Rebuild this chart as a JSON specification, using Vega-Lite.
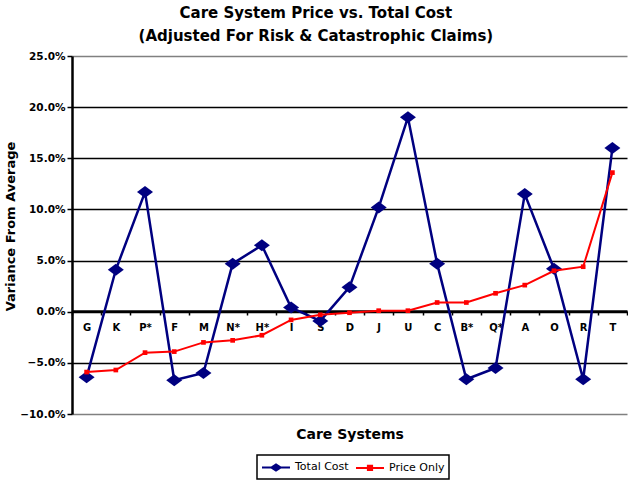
{
  "$schema": "https://vega.github.io/schema/vega-lite/v6.json",
  "width": 555,
  "height": 358,
  "autosize": {"type": "none"},
  "padding": {"left": 72, "top": 56, "right": 1, "bottom": 66},
  "background": "white",
  "title": {
    "text": ["Care System Price vs. Total Cost", "(Adjusted For Risk & Catastrophic Claims)"],
    "anchor": "middle",
    "frame": "bounds",
    "font": "DejaVu Sans",
    "fontSize": 15,
    "fontWeight": "bold",
    "lineHeight": 23,
    "color": "black",
    "offset": 7
  },
  "data": {
    "values": [
      {"system": "G", "series": "Total Cost", "value": -0.064},
      {"system": "K", "series": "Total Cost", "value": 0.041},
      {"system": "P*", "series": "Total Cost", "value": 0.117},
      {"system": "F", "series": "Total Cost", "value": -0.067},
      {"system": "M", "series": "Total Cost", "value": -0.060},
      {"system": "N*", "series": "Total Cost", "value": 0.047},
      {"system": "H*", "series": "Total Cost", "value": 0.065},
      {"system": "I", "series": "Total Cost", "value": 0.004},
      {"system": "S", "series": "Total Cost", "value": -0.009},
      {"system": "D", "series": "Total Cost", "value": 0.024},
      {"system": "J", "series": "Total Cost", "value": 0.102},
      {"system": "U", "series": "Total Cost", "value": 0.190},
      {"system": "C", "series": "Total Cost", "value": 0.047},
      {"system": "B*", "series": "Total Cost", "value": -0.066},
      {"system": "Q*", "series": "Total Cost", "value": -0.055},
      {"system": "A", "series": "Total Cost", "value": 0.115},
      {"system": "O", "series": "Total Cost", "value": 0.042},
      {"system": "R", "series": "Total Cost", "value": -0.066},
      {"system": "T", "series": "Total Cost", "value": 0.160},
      {"system": "G", "series": "Price Only", "value": -0.059},
      {"system": "K", "series": "Price Only", "value": -0.057},
      {"system": "P*", "series": "Price Only", "value": -0.040},
      {"system": "F", "series": "Price Only", "value": -0.039},
      {"system": "M", "series": "Price Only", "value": -0.030},
      {"system": "N*", "series": "Price Only", "value": -0.028},
      {"system": "H*", "series": "Price Only", "value": -0.023},
      {"system": "I", "series": "Price Only", "value": -0.008},
      {"system": "S", "series": "Price Only", "value": -0.003},
      {"system": "D", "series": "Price Only", "value": -0.001},
      {"system": "J", "series": "Price Only", "value": 0.001},
      {"system": "U", "series": "Price Only", "value": 0.001},
      {"system": "C", "series": "Price Only", "value": 0.009},
      {"system": "B*", "series": "Price Only", "value": 0.009},
      {"system": "Q*", "series": "Price Only", "value": 0.018},
      {"system": "A", "series": "Price Only", "value": 0.026},
      {"system": "O", "series": "Price Only", "value": 0.040},
      {"system": "R", "series": "Price Only", "value": 0.044},
      {"system": "T", "series": "Price Only", "value": 0.136}
    ]
  },
  "encoding": {
    "x": {
      "field": "system",
      "type": "nominal",
      "scale": {
        "type": "band",
        "domain": ["G", "K", "P*", "F", "M", "N*", "H*", "I", "S", "D", "J", "U", "C", "B*", "Q*", "A", "O", "R", "T"],
        "paddingInner": 0,
        "paddingOuter": 0
      },
      "axis": {
        "orient": "bottom",
        "offset": -103,
        "title": "Care Systems",
        "titleFont": "DejaVu Sans",
        "titleFontSize": 14,
        "titleFontWeight": "bold",
        "titleColor": "black",
        "titleY": 123,
        "titleBaseline": "middle",
        "labelAngle": 0,
        "labelFont": "DejaVu Sans",
        "labelFontSize": 10,
        "labelFontWeight": "bold",
        "labelColor": "black",
        "labelPadding": 7,
        "tickBand": "extent",
        "tickColor": "black",
        "tickSize": 4,
        "tickWidth": 1.5,
        "domainColor": "black",
        "domainWidth": 2.5,
        "grid": false
      }
    },
    "y": {
      "field": "value",
      "type": "quantitative",
      "scale": {"domain": [-0.1, 0.25], "nice": false, "zero": false},
      "axis": {
        "format": ".1%",
        "values": [-0.1, -0.05, 0, 0.05, 0.1, 0.15, 0.2, 0.25],
        "title": "Variance From Average",
        "titleFont": "DejaVu Sans",
        "titleFontSize": 13,
        "titleFontWeight": "bold",
        "titleColor": "black",
        "titleX": -62,
        "titleY": 170,
        "titleBaseline": "middle",
        "labelFont": "DejaVu Sans",
        "labelFontSize": 10.5,
        "labelFontWeight": "bold",
        "labelColor": "black",
        "labelPadding": 2,
        "tickColor": "black",
        "tickSize": 5,
        "tickWidth": 1.5,
        "domainColor": "black",
        "domainWidth": 2.5,
        "grid": true,
        "gridColor": {
          "condition": {"test": "datum.value === 0.25 || datum.value === -0.1", "value": "#808080"},
          "value": "black"
        },
        "gridWidth": 1.5,
        "gridOpacity": 1
      }
    },
    "color": {
      "field": "series",
      "type": "nominal",
      "scale": {"domain": ["Total Cost", "Price Only"], "range": ["#000080", "#ff0000"]},
      "legend": {
        "orient": "none",
        "legendX": 185,
        "legendY": 399,
        "direction": "horizontal",
        "title": null,
        "fillColor": "white",
        "strokeColor": "black",
        "padding": 4,
        "symbolSize": 196,
        "symbolStrokeWidth": 2,
        "labelFont": "DejaVu Sans",
        "labelFontSize": 11,
        "labelColor": "black",
        "labelOffset": 18,
        "columnPadding": 3,
        "encode": {
          "legend": {"update": {"strokeWidth": {"value": 1.5}}},
          "symbols": {
            "update": {
              "shape": {"signal": "datum.value === 'Total Cost' ? 'M-1,0H3M0.33,0L1,-0.43L1.67,0L1,0.43Z' : 'M-1,0H3M0.7,-0.3H1.3V0.3H0.7Z'"},
              "fill": {"signal": "datum.value === 'Total Cost' ? '#000080' : '#ff0000'"},
              "stroke": {"signal": "datum.value === 'Total Cost' ? '#000080' : '#ff0000'"},
              "strokeWidth": {"value": 2},
              "opacity": {"value": 1},
              "fillOpacity": {"value": 1}
            }
          }
        }
      }
    }
  },
  "layer": [
    {
      "transform": [{"filter": "datum.series === 'Total Cost'"}],
      "mark": {"type": "line", "strokeWidth": 2.5}
    },
    {
      "transform": [{"filter": "datum.series === 'Total Cost'"}],
      "mark": {"type": "point", "filled": true, "opacity": 1, "shape": "M-1,0L0,-0.75L1,0L0,0.75Z", "size": 256}
    },
    {
      "transform": [{"filter": "datum.series === 'Price Only'"}],
      "mark": {"type": "line", "strokeWidth": 2}
    },
    {
      "transform": [{"filter": "datum.series === 'Price Only'"}],
      "mark": {"type": "point", "filled": true, "opacity": 1, "shape": "square", "size": 22}
    }
  ],
  "config": {
    "view": {"stroke": null}
  }
}
